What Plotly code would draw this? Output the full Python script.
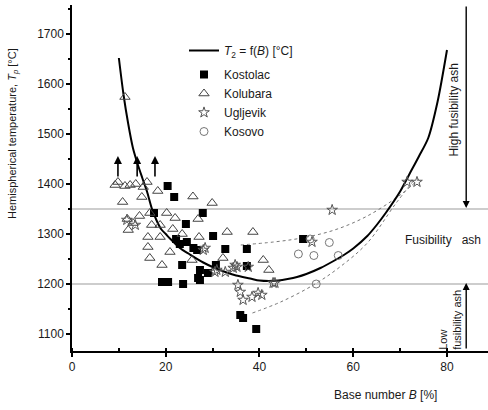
import plotly.graph_objects as go

# ---- data ----
curve_B = [10, 11, 12, 13, 14, 15, 16, 17, 18, 19, 20, 21, 23, 25, 28, 30, 33, 35, 38, 40, 42, 44,
           46, 48, 50, 53, 56, 58, 60, 63, 65, 67, 70, 72, 74, 76, 78, 80]
curve_T = [1652, 1578, 1520, 1472, 1440, 1412, 1385, 1352, 1328, 1310, 1300, 1290, 1272, 1260, 1243,
           1234, 1223, 1217, 1211, 1207, 1206, 1207, 1210, 1214, 1220, 1232, 1247, 1258, 1271, 1296,
           1318, 1343, 1385, 1420, 1455, 1492, 1565, 1668]

kostolac_B = [20.4, 21.8, 17.5, 27.9, 24.3, 30.1, 22.2, 24.5, 26.7, 25.9, 32.7, 37.3, 23.5, 30.7,
              37.3, 27.3, 26.9, 19.2, 20.5, 23.7, 27.3, 35.9, 36.5, 39.3, 49.3, 23.0, 29.0]
kostolac_T = [1396, 1374, 1342, 1342, 1320, 1296, 1290, 1284, 1268, 1272, 1270, 1270, 1238, 1238,
              1236, 1228, 1212, 1204, 1204, 1200, 1208, 1138, 1132, 1110, 1290, 1280, 1222]

kolubara_B = [9.8, 11.3, 12.4, 13.6, 15.2, 16.0, 18.3, 10.8, 14.9, 25.8, 29.9, 16.6, 20.2, 26.9,
              17.0, 18.8, 16.2, 18.8, 27.1, 33.1, 38.6, 16.2, 20.9, 16.6, 19.2, 25.6, 32.2, 40.8,
              42.0, 11.3, 9.2, 11.8, 13.0, 14.4, 22.0, 12.0, 21.5, 23.5]
kolubara_T = [1404, 1396, 1398, 1400, 1394, 1404, 1386, 1364, 1374, 1375, 1362, 1342, 1342, 1330,
              1318, 1318, 1294, 1294, 1294, 1304, 1304, 1274, 1264, 1252, 1238, 1248, 1252, 1248,
              1228, 1574, 1398, 1330, 1322, 1336, 1332, 1308, 1310, 1300]

ugljevik_B = [28.0, 30.5, 35.2, 37.6, 35.4, 35.9, 36.5, 38.4, 39.7, 40.5, 42.9, 34.8, 55.5, 51.2,
              71.5, 73.6, 28.4, 30.9, 32.7, 34.4, 11.7, 43.3, 13.5]
ugljevik_T = [1268, 1224, 1234, 1234, 1198, 1184, 1168, 1174, 1182, 1178, 1202, 1238, 1348, 1284,
              1404, 1404, 1272, 1228, 1224, 1232, 1328, 1202, 1318]

kosovo_B = [48.3, 51.6, 54.9, 56.8, 52.1, 50.8]
kosovo_T = [1260, 1257, 1283, 1257, 1200, 1290]

upper_fit_B = [36, 43, 49, 56, 63, 70, 74]
upper_fit_T = [1278, 1284, 1292, 1308, 1336, 1378, 1410]
lower_fit_B = [38.5, 44.5, 51.5, 57, 63, 69, 73]
lower_fit_T = [1142, 1164, 1198, 1233, 1282, 1360, 1408]

limit_low, limit_high = 1200, 1350
arrow_B = [9.8, 13.9, 17.7]
arrow_from, arrow_to = 1412, 1456
side_B = 84.1

x_range = [0, 88.75]
y_range = [1066, 1758]

FONT = "Liberation Sans, Arial, Helvetica, sans-serif"
INK = "#1a1a1a"

fig = go.Figure()

fig.add_trace(go.Scatter(x=upper_fit_B, y=upper_fit_T, mode="lines", line=dict(color="#777", width=1, dash="dot", shape="spline"),
                         showlegend=False, hoverinfo="skip"))
fig.add_trace(go.Scatter(x=lower_fit_B, y=lower_fit_T, mode="lines", line=dict(color="#777", width=1, dash="dot", shape="spline"),
                         showlegend=False, hoverinfo="skip"))

fig.add_trace(go.Scatter(x=curve_B, y=curve_T, mode="lines", name="<i>T</i><sub>2</sub> = f(<i>B</i>) [°C]",
                         legendgroup="fit", line=dict(color="black", width=2, shape="spline", smoothing=0.8)))
fig.add_trace(go.Scatter(x=kostolac_B, y=kostolac_T, mode="markers", name="Kostolac", legendgroup="data",
                         marker=dict(symbol="square", size=8, color="black")))
fig.add_trace(go.Scatter(x=kolubara_B, y=kolubara_T, mode="markers", name="Kolubara", legendgroup="data",
                         marker=dict(symbol="triangle-up-open", size=9, color="#444", line=dict(width=1))))
fig.add_trace(go.Scatter(x=ugljevik_B, y=ugljevik_T, mode="markers", name="Ugljevik", legendgroup="data",
                         marker=dict(symbol="star-open", size=8, color="#555", line=dict(width=1))))
fig.add_trace(go.Scatter(x=kosovo_B, y=kosovo_T, mode="markers", name="Kosovo", legendgroup="data",
                         marker=dict(symbol="circle-open", size=8, color="#777", line=dict(width=1))))

for lim in (limit_low, limit_high):
    fig.add_hline(y=lim, line=dict(color="#bdbdbd", width=1.5), layer="below")

ann = []
for b in arrow_B:
    ann.append(dict(x=b, y=arrow_to, ax=b, ay=arrow_from, xref="x", yref="y", axref="x", ayref="y",
                    text="", showarrow=True, arrowhead=2, arrowsize=1, arrowwidth=1.6, arrowcolor="black"))
ann.append(dict(x=side_B, y=limit_high + 2, ax=side_B, ay=y_range[1], xref="x", yref="y", axref="x", ayref="y",
                text="", showarrow=True, arrowhead=2, arrowsize=1, arrowwidth=1.4, arrowcolor="black"))
ann.append(dict(x=side_B, y=limit_low + 2, ax=side_B, ay=y_range[0] + 2, xref="x", yref="y", axref="x", ayref="y",
                text="", showarrow=True, arrowhead=2, arrowsize=1, arrowwidth=1.4, arrowcolor="black"))
ann.append(dict(x=81.4, y=1548, xref="x", yref="y", text="High fusibility ash", textangle=-90, showarrow=False,
                font=dict(family=FONT, size=12, color=INK)))
ann.append(dict(x=79.2, y=1288, xref="x", yref="y", text="Fusibility&nbsp;&nbsp;&nbsp;ash", showarrow=False,
                font=dict(family=FONT, size=12, color=INK)))
ann.append(dict(x=80.6, y=1128, xref="x", yref="y", text="Low<br>fusibility ash", textangle=-90, showarrow=False,
                align="left", font=dict(family=FONT, size=11, color=INK)))
ann.append(dict(x=385, y=395, xref="paper", yref="paper", text="Base number <i>B</i> [%]", showarrow=False,
                font=dict(family=FONT, size=12, color=INK)))
ann.append(dict(x=13, y=134, xref="paper", yref="paper", text="Hemispherical temperature, <i>T</i><sub><i>p</i></sub> [°C]",
                textangle=-90, showarrow=False, font=dict(family=FONT, size=11, color=INK)))

# convert the two pixel-positioned titles to paper coords
W, H = 488, 410
ml, mr, mt, mb = 72, 0, 5, 59
pw, ph = W - ml - mr, H - mt - mb
for a in ann[-2:]:
    a["x"] = (a["x"] - ml) / pw
    a["y"] = 1 - (a["y"] - mt) / ph
    a["xanchor"] = "center"
    a["yanchor"] = "middle"

fig.update_layout(
    width=W, height=H, margin=dict(l=ml, r=mr, t=mt, b=mb),
    paper_bgcolor="white", plot_bgcolor="white",
    font=dict(family=FONT, size=11, color=INK),
    annotations=ann,
    legend=dict(x=(184 - ml) / pw, y=1 - (36 - mt) / ph, xanchor="left", yanchor="top",
                bgcolor="rgba(0,0,0,0)", font=dict(family=FONT, size=12, color=INK),
                tracegroupgap=5, itemwidth=30),
    showlegend=True,
)
fig.update_xaxes(range=x_range, showgrid=False, zeroline=False, showline=True, linecolor="black", linewidth=1.5,
                 tickmode="array", tickvals=[0, 20, 40, 60, 80], ticks="outside", ticklen=4, tickwidth=1.5,
                 tickcolor="black", minor=dict(dtick=10, tick0=0, ticks="inside", ticklen=3, tickcolor="black"),
                 tickfont=dict(family=FONT, size=12, color=INK))
fig.update_yaxes(range=y_range, showgrid=False, zeroline=False, showline=True, linecolor="black", linewidth=1.5,
                 tickmode="array", tickvals=[1100, 1200, 1300, 1400, 1500, 1600, 1700], ticks="outside", ticklen=4,
                 tickwidth=1.5, tickcolor="black",
                 minor=dict(dtick=50, tick0=1050, ticks="outside", ticklen=2, tickcolor="black"),
                 tickfont=dict(family=FONT, size=12, color=INK))

fig.write_html("out.html")
